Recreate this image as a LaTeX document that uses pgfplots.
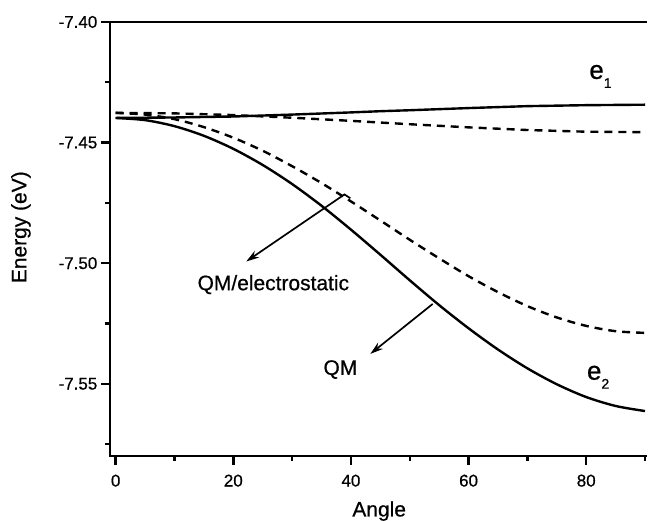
\documentclass[border=0pt]{standalone}
\usepackage{fontspec}
\setmainfont{Liberation Sans}[FakeBold=0.6]
\usepackage{pgfplots}
\pgfplotsset{compat=1.18}
\usetikzlibrary{arrows.meta}

\begin{document}
\begin{tikzpicture}
\begin{axis}[
    width=538pt, height=435pt, scale only axis,
    xmin=-1, xmax=90.3, ymin=-7.58, ymax=-7.40,
    axis x line=box, axis y line=left,
    axis line style={-},
    xtick pos=bottom, ytick pos=left,
    tick align=outside,
    major tick length=9pt, minor tick length=5pt,
    xtick={0,20,40,60,80}, xticklabels={0,20,40,60,80},
    ytick={-7.55,-7.50,-7.45,-7.40}, yticklabels={-7.55,-7.50,-7.45,-7.40},
    minor x tick num=1, minor y tick num=1,
    xticklabel style={font=\fontsize{17}{17}\selectfont, yshift=-6pt},
    yticklabel style={font=\fontsize{17}{17}\selectfont},
    clip=false,
]
% e1, QM (solid)
\addplot[black, line width=2.4pt] coordinates {
    (0,-7.4398) (10,-7.4396) (20,-7.4392) (30,-7.4384) (40,-7.4375) (45,-7.4370)
    (50,-7.4366) (60,-7.4357) (70,-7.4349) (80,-7.4345) (90,-7.4343)
};
% e1, QM/electrostatic (dashed)
\addplot[black, line width=2.4pt, dash pattern=on 8pt off 6pt] coordinates {
    (0,-7.4377) (10,-7.4379) (20,-7.4386) (30,-7.4397) (40,-7.4410) (45,-7.4417)
    (50,-7.4424) (60,-7.4437) (70,-7.4448) (80,-7.4455) (90,-7.4457)
};
% e2, QM (solid)
\addplot[black, line width=2.4pt, smooth] coordinates {
    (0,-7.4398) (5,-7.4407) (10,-7.4432) (15,-7.4472) (20,-7.4526) (25,-7.4593)
    (30,-7.4672) (35,-7.4762) (40,-7.4861) (45,-7.4965) (50,-7.5071) (55,-7.5174)
    (60,-7.5270) (65,-7.5358) (70,-7.5436) (75,-7.5502) (80,-7.5555) (85,-7.5592)
    (90,-7.5613)
};
% e2, QM/electrostatic (dashed)
\addplot[black, line width=2.4pt, smooth, dash pattern=on 8pt off 6pt] coordinates {
    (0,-7.4377) (5,-7.4384) (10,-7.4403) (15,-7.4436) (20,-7.4480) (25,-7.4534)
    (30,-7.4598) (35,-7.4668) (40,-7.4744) (45,-7.4823) (50,-7.4903) (55,-7.4980)
    (60,-7.5054) (65,-7.5120) (70,-7.5178) (75,-7.5225) (80,-7.5260) (85,-7.5282)
    (90,-7.5289)
};
% heavier axis lines and ticks
\draw[line width=2.4pt] (rel axis cs:0,1) -- (rel axis cs:0,0) -- (rel axis cs:1,0);
\draw[line width=2pt] (rel axis cs:0,1) -- (rel axis cs:1,1);
\pgfplotsinvokeforeach{0,20,40,60,80}{
    \draw[line width=2.4pt] (axis cs:#1,-7.58) -- ++(0pt,-9pt);}
\pgfplotsinvokeforeach{10,30,50,70,90}{
    \draw[line width=2.4pt] (axis cs:#1,-7.58) -- ++(0pt,-5pt);}
\pgfplotsinvokeforeach{-7.55,-7.50,-7.45,-7.40}{
    \draw[line width=2.4pt] (axis cs:-1,#1) -- ++(-9pt,0pt);}
\pgfplotsinvokeforeach{-7.575,-7.525,-7.475,-7.425}{
    \draw[line width=2.4pt] (axis cs:-1,#1) -- ++(-5pt,0pt);}
% annotations
\draw[line width=1.7pt, -{Stealth[length=13pt,width=8pt]}]
    (axis cs:39.9,-7.4731) -- (axis cs:38.9,-7.4715) -- (axis cs:22.2,-7.4993);
\draw[line width=1.7pt, -{Stealth[length=13pt,width=8pt]}]
    (axis cs:53.9,-7.5169) -- (axis cs:43.3,-7.5376);
\node[anchor=base west, inner sep=0pt, font=\fontsize{21}{21}\selectfont]
    at (axis cs:13.9,-7.5112) {QM/electrostatic};
\node[anchor=base west, inner sep=0pt, font=\fontsize{21}{21}\selectfont]
    at (axis cs:35.3,-7.5463) {QM};
\node[anchor=base west, inner sep=0pt, font=\fontsize{26}{26}\selectfont]
    at (axis cs:80.5,-7.4236) {e\raisebox{-9pt}{\fontsize{14}{14}\selectfont 1}};
\node[anchor=base west, inner sep=0pt, font=\fontsize{26}{26}\selectfont]
    at (axis cs:80.1,-7.5483) {e\raisebox{-9pt}{\fontsize{14}{14}\selectfont 2}};
% axis labels
\node[rotate=90, anchor=center, inner sep=0pt, font=\fontsize{21}{21}\selectfont]
    at (axis cs:-16.1,-7.4851) {Energy (eV)};
\node[anchor=base, inner sep=0pt, font=\fontsize{21}{21}\selectfont]
    at (axis cs:44.8,-7.6050) {Angle};
\coordinate (sw) at (rel axis cs:0,0);
\end{axis}
\path (sw) ++(-110pt,-64pt) rectangle ++(648pt,521pt);
\end{tikzpicture}
\end{document}
